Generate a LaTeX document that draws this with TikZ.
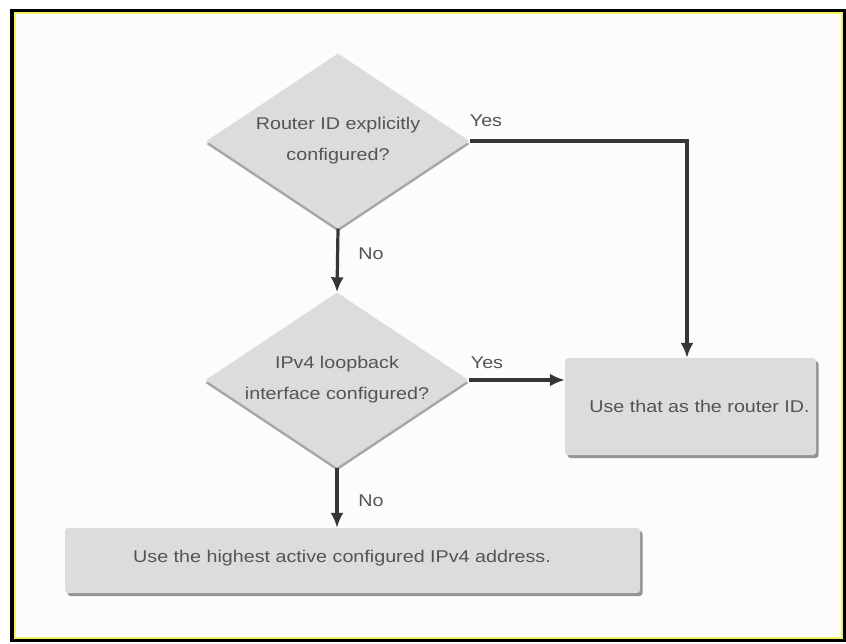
\documentclass[tikz,border=0pt]{standalone}
\usepackage{fontspec}
\setmainfont{Liberation Sans}[FakeStretch=1.16]
\usetikzlibrary{positioning}
\usetikzlibrary{shapes.geometric}
\usetikzlibrary{arrows.meta,shadows}
\usepackage{xcolor}
\definecolor{shapegray}{HTML}{DCDCDC}
\definecolor{textgray}{HTML}{545454}
\definecolor{linegray}{HTML}{363636}
\definecolor{framebg}{HTML}{FCFCFC}
\definecolor{frameyellow}{HTML}{F4F060}

\begin{document}
\begin{tikzpicture}[x=1pt,y=-1pt,
    every node/.style={font=\fontsize{17pt}{31pt}\selectfont, text=textgray},
    decision/.style={diamond, aspect=1.5, fill=shapegray, inner sep=0pt,
        minimum width=263pt, minimum height=175pt, align=center,
        drop shadow={shadow xshift=0pt, shadow yshift=-3pt, fill=gray!70, opacity=1}},
    outcome/.style={rectangle, rounded corners=3pt, fill=shapegray, inner sep=0pt,
        drop shadow={shadow xshift=2.5pt, shadow yshift=-3pt, fill=gray!85, opacity=1}},
    flow/.style={line width=3.2pt, draw=linegray, -{Latex[length=15pt,width=13pt]}}]
    % frame and background
    \useasboundingbox (0,0) rectangle (846,644);
    \fill[white] (0,0) rectangle (846,644);
    \draw[line width=4pt, fill=framebg] (12,11) rectangle (844,640);
    \draw[line width=2pt, frameyellow] (14.5,13.5) rectangle (841.5,637.5);

    % decisions
    \node[decision] (explicit) at (338,141) {Router ID explicitly\\configured?};
    \node[decision] (loopback) at (337,380) {IPv4 loopback\\interface configured?};

    % outcomes
    \node[outcome, minimum width=251pt, minimum height=97pt] (useid) at (690.5,406.5) {};
    \node[anchor=west] (useidtext) at ([xshift=21pt]useid.west) {Use that as the router ID.};
    \node[outcome, minimum width=575pt, minimum height=65pt] (highest) at (352.5,560.5) {};
    \node (highesttext) at (342,558) {Use the highest active configured IPv4 address.};

    % connectors
    \draw[flow] (explicit.south) -- (loopback.north);
    \draw[flow] (explicit.east) -| ([xshift=-3.5pt]useid.north);
    \draw[flow] (loopback.east) -- (loopback.east -| useid.west);
    \draw[flow] (loopback.south) -- (loopback.south |- highest.north);

    % branch labels
    \node (yesexplicit) at (486,121) {Yes};
    \node (noexplicit) at (371,254) {No};
    \node (yesloopback) at (487,363) {Yes};
    \node (noloopback) at (371,501) {No};
\end{tikzpicture}
\end{document}
